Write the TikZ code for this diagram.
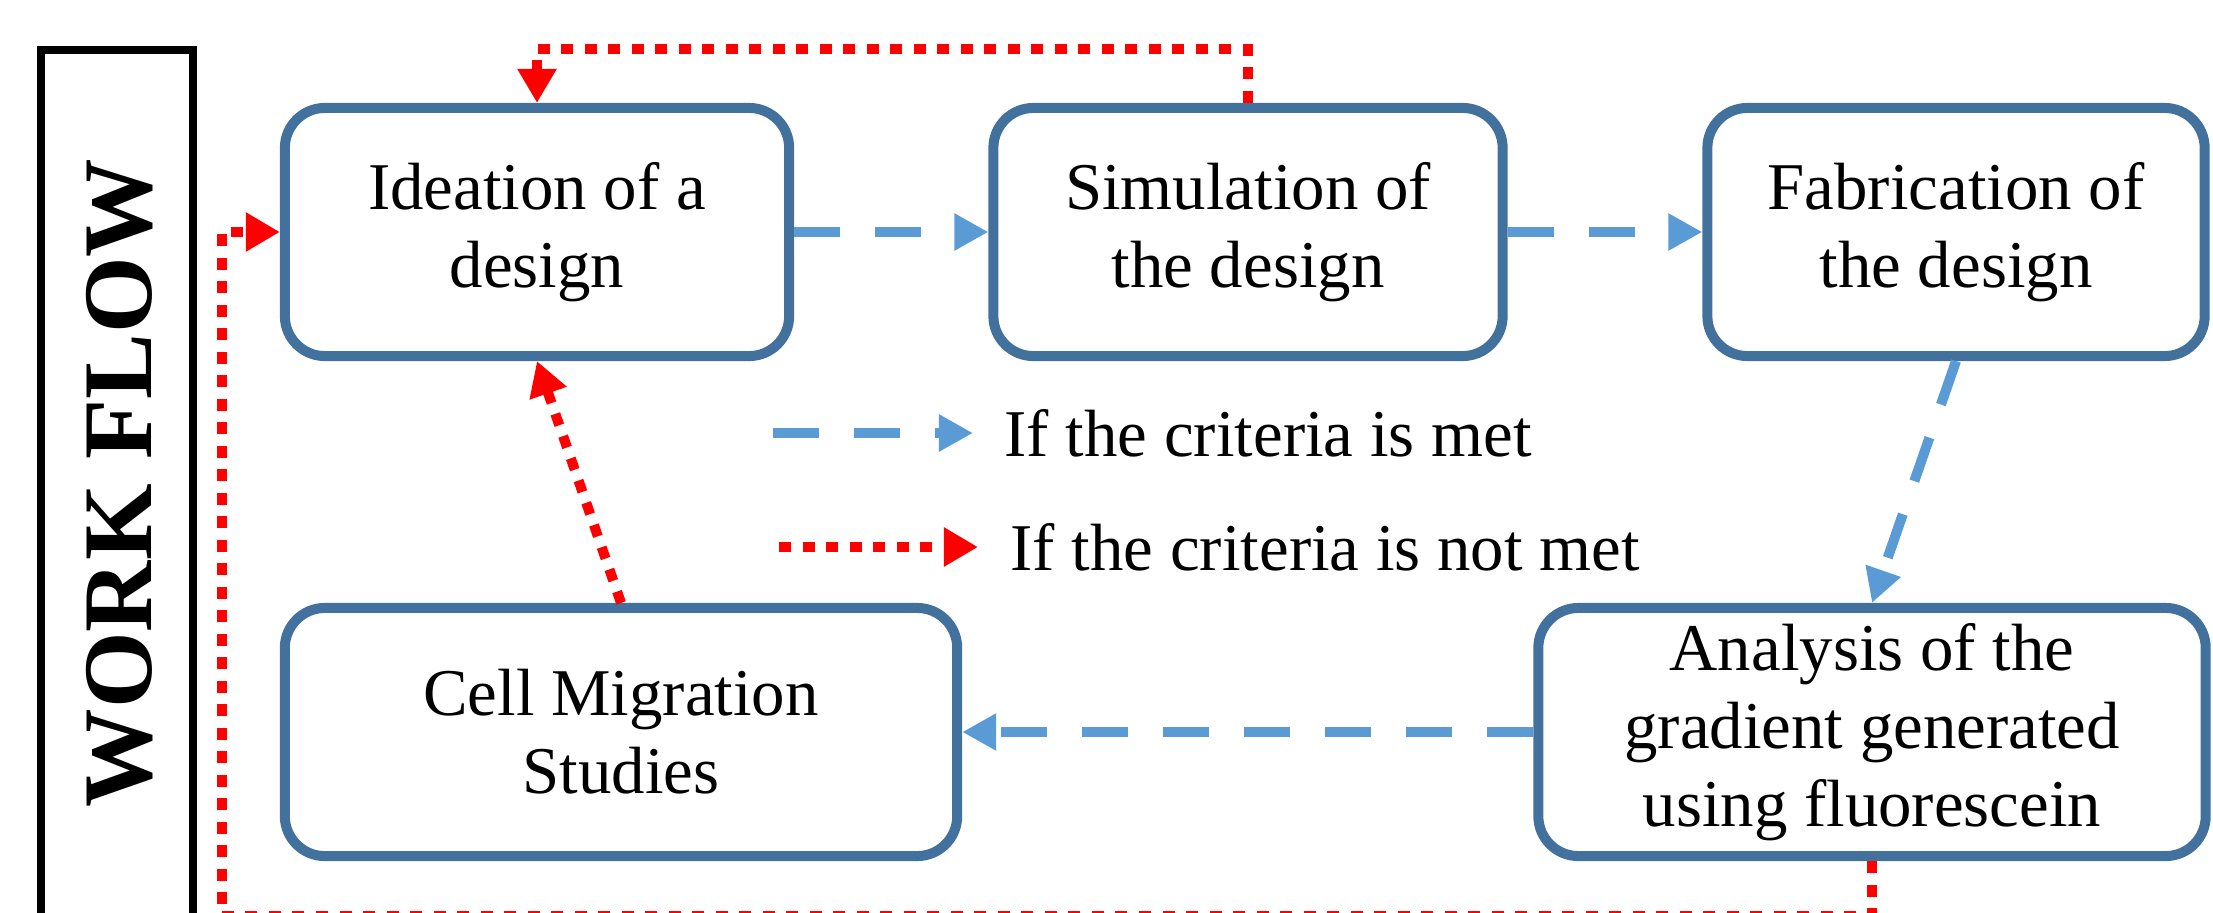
\documentclass[tikz,border=0pt]{standalone}
\usepackage{fontspec}
\setmainfont{Liberation Serif}
\usetikzlibrary{arrows.meta}

\definecolor{boxblue}{HTML}{41719C}
\definecolor{okblue}{HTML}{5B9BD5}
\definecolor{nored}{HTML}{FF0000}

\begin{document}
\begin{tikzpicture}
        [x=0.01cm, y=-0.01cm,
         stage/.style={rectangle, rounded corners=0.4cm, draw=boxblue, line width=0.1cm, align=center,
                       inner sep=0pt, minimum height=2.48cm, font=\fontsize{19pt}{22.2pt}\selectfont},
         legend/.style={anchor=west, inner sep=0pt, font=\fontsize{19pt}{22.2pt}\selectfont},
         yesline/.style={draw=okblue, line width=0.1cm, dash pattern=on 0.46cm off 0.35cm,
                         -{Triangle[length=0.34cm, width=0.35cm]}},
         noline/.style={draw=nored, line width=0.1cm, dash pattern=on 0.12cm off 0.115cm,
                        -{Triangle[length=0.34cm, width=0.37cm]}}]
        \useasboundingbox (0,0) rectangle (2213,912);

        % side label
        \draw[line width=0.075cm] (41,920) -- (41,50) -- (193,50) -- (193,920);
        \node[rotate=90, font=\fontsize{28pt}{30pt}\selectfont\bfseries] (workflow) at (120,483) {WORK FLOW};

        % stages
        \node[stage, minimum width=5.04cm] (ideation) at (537,232) {Ideation of a\\design};
        \node[stage, minimum width=5.09cm] (simulation) at (1248,232) {Simulation of\\the design};
        \node[stage, minimum width=4.97cm] (fabrication) at (1956,232) {Fabrication of\\the design};
        \node[stage, minimum width=6.72cm] (migration) at (621,732) {Cell Migration\\Studies};
        \node[stage, minimum width=6.67cm] (analysis) at (1872,732) {Analysis of the\\gradient generated\\using fluorescein};

        % legend
        \node[legend] (metlbl) at (1004,433) {If the criteria is met};
        \node[legend] (notmetlbl) at (1010,547) {If the criteria is not met};
        \coordinate (metstart) at (773,433);
        \coordinate (notmetstart) at (779,547);
        \coordinate (loopcorner) at (222,916);

        \draw[yesline] (metstart) -- ([xshift=-0.31cm]metlbl.west);
        \draw[noline] (notmetstart) -- ([xshift=-0.32cm]notmetlbl.west);

        % criteria met
        \draw[yesline] (ideation) -- (simulation);
        \draw[yesline] (simulation) -- (fabrication);
        \draw[yesline] (fabrication.south) -- (analysis.north);
        \draw[yesline] (analysis) -- (migration);

        % criteria not met
        \draw[noline] (migration.north) -- (ideation.south);
        \draw[noline] (simulation.north) -- ++(0,-54) -| (ideation.north);
        \draw[noline] (analysis.south) |- (loopcorner) |- (ideation.west);
\end{tikzpicture}
\end{document}
